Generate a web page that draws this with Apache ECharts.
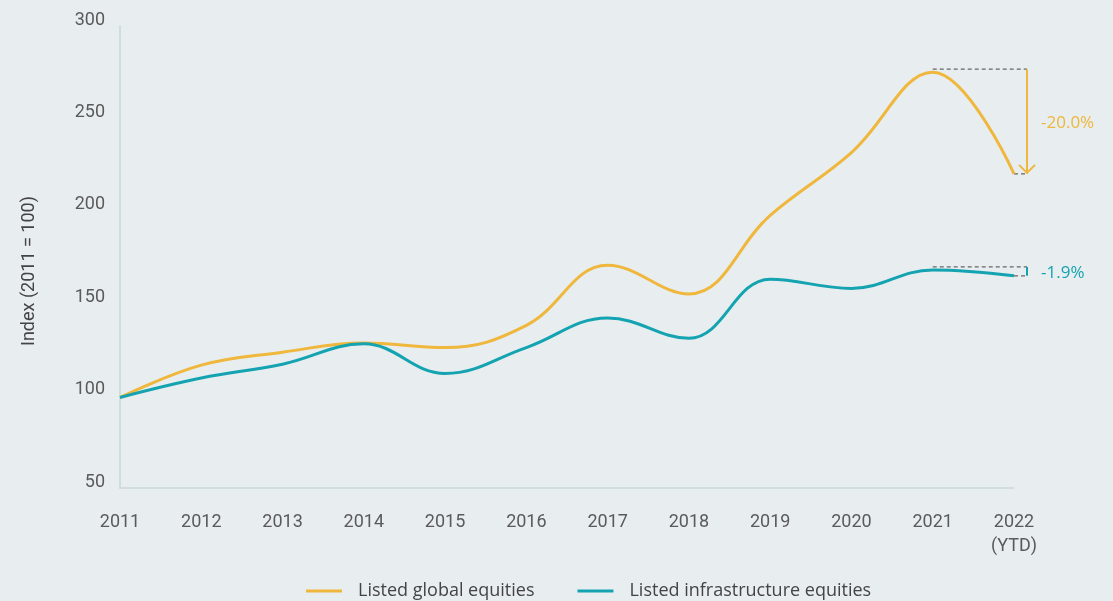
<!DOCTYPE html>
<html><head><meta charset="utf-8">
<script src="https://cdn.jsdelivr.net/npm/echarts@6/dist/echarts.min.js"></script>
<style>html,body{margin:0;padding:0;background:#e8edf0}#c{width:1113px;height:601px}</style>
</head><body><div id="c"></div>
<script>
const categories = ['2011','2012','2013','2014','2015','2016','2017','2018','2019','2020','2021','2022\n(YTD)'];
const globalEquities = [99, 116.5, 123.5, 128.5, 126, 138, 170.5, 155, 197.5, 231.5, 275, 220];
const infraEquities = [99, 109.5, 117, 128, 112, 126, 142, 131, 163, 158, 168, 164.8];
const yTicks = {min: 50, max: 300, interval: 50};
const seriesNames = ['Listed global equities', 'Listed infrastructure equities'];
const changeLabels = ['-20.0%', '-1.9%'];

const YELLOW = '#efb73c', TEAL = '#14a3b0';
const chart = echarts.init(document.getElementById('c'));
chart.setOption({
  backgroundColor: '#e8edf0',
  animation: false,
  grid: {left: 120, right: 99, top: 26, bottom: 113},
  legend: {
    top: 577, left: 301, itemWidth: 36, itemHeight: 3, itemGap: 43,
    icon: 'rect',
    textStyle: {color: '#444', fontSize: 18, fontFamily: 'Open Sans', padding: [0,0,0,11]},
    data: seriesNames
  },
  xAxis: {
    type: 'category', data: categories, boundaryGap: false,
    axisLine: {lineStyle: {color: '#c9d7d9', width: 1.5}},
    axisTick: {show: false},
    axisLabel: {color: '#5a5a5a', fontSize: 18, fontWeight: 400, fontFamily: 'Roboto', margin: 22, lineHeight: 24}
  },
  yAxis: {
    type: 'value', min: yTicks.min, max: yTicks.max, interval: yTicks.interval,
    name: 'Index (2011 = 100)', nameLocation: 'middle', nameGap: 82, nameRotate: 90,
    nameTextStyle: {color: '#444', fontSize: 18, fontWeight: 400, fontFamily: 'Roboto', padding: [0,0,0,-28]},
    axisLine: {show: true, lineStyle: {color: '#c9d7d9', width: 1.5}},
    axisTick: {show: false},
    splitLine: {show: false},
    axisLabel: {color: '#5a5a5a', fontSize: 18, fontWeight: 400, fontFamily: 'Roboto', margin: 15, verticalAlign: 'bottom', padding: [0,0,-3,0]}
  },
  series: [
    {name: seriesNames[0], type: 'line', data: globalEquities, smooth: 0.4, symbol: 'none',
     lineStyle: {color: YELLOW, width: 3}, itemStyle: {color: YELLOW}},
    {name: seriesNames[1], type: 'line', data: infraEquities, smooth: 0.4, symbol: 'none',
     lineStyle: {color: TEAL, width: 3}, itemStyle: {color: TEAL}}
  ]
});

function px(i, v) { return chart.convertToPixel({gridIndex: 0}, [i, v]); }
const n = categories.length;
const gfx = [];
function annotate(series, color, label, arrow) {
  const a = px(n - 2, series[n - 2]);
  const b = px(n - 1, series[n - 1]);
  const xr = b[0] + 13;
  const dash = {stroke: '#666', lineWidth: 1.2, lineDash: [4, 3]};
  gfx.push({type: 'line', shape: {x1: a[0], y1: a[1] - 3, x2: xr, y2: a[1] - 3}, style: dash});
  gfx.push({type: 'line', shape: {x1: b[0], y1: b[1], x2: xr, y2: b[1]}, style: dash});
  gfx.push({type: 'line', shape: {x1: xr, y1: a[1] - 3, x2: xr, y2: b[1]}, style: {stroke: color, lineWidth: 2}});
  if (arrow) {
    gfx.push({type: 'polyline', shape: {points: [[xr - 8, b[1] - 9], [xr, b[1] - 1], [xr + 8, b[1] - 9]]}, style: {stroke: color, lineWidth: 2, fill: null}});
  }
  gfx.push({type: 'text', x: xr + 14, y: (a[1] + b[1]) / 2, style: {text: label, fill: color, fontSize: 17, fontFamily: 'Open Sans', verticalAlign: 'middle'}});
}
annotate(globalEquities, YELLOW, changeLabels[0], true);
annotate(infraEquities, TEAL, changeLabels[1], false);
chart.setOption({graphic: gfx});
</script></body></html>
